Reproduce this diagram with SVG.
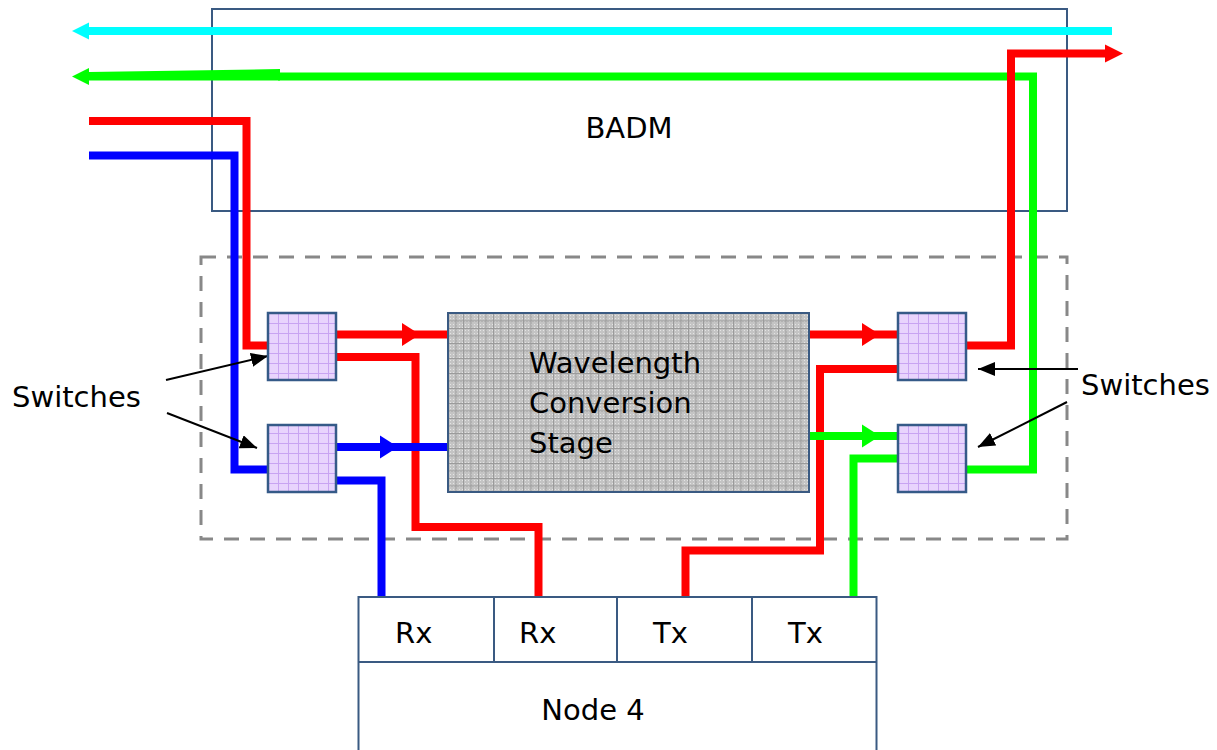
<svg xmlns="http://www.w3.org/2000/svg" width="1217" height="750" viewBox="0 0 1217 750">
<style>
.box{fill:#fff;stroke:#3a5a82;stroke-width:2}
.sw{fill:url(#swp);stroke:#355a88;stroke-width:2.5}
.t{font-family:"DejaVu Sans",Verdana,sans-serif;font-size:29px;fill:#000}
.w{fill:none;stroke-width:8;stroke-linejoin:miter}
.r{stroke:#ff0000}.b{stroke:#0000ff}.g{stroke:#00ff00}.c{stroke:#00ffff}
.ann{fill:none;stroke:#000;stroke-width:2;marker-end:url(#ah)}
</style>
<defs>
<marker id="ah" markerUnits="userSpaceOnUse" markerWidth="18" markerHeight="14" refX="17" refY="7" orient="auto">
<path d="M0,0 L17,7 L0,14 Z" fill="#000"/>
</marker>
<pattern id="swp" width="10" height="10" patternUnits="userSpaceOnUse" x="268" y="313">
<rect width="10" height="10" fill="#e8d4fd"/>
<path d="M0,0.5 H10 M0.5,0 V10" stroke="#c8a4f2" stroke-width="1"/>
</pattern>
<pattern id="dots" width="3" height="3" patternUnits="userSpaceOnUse">
<rect width="3" height="3" fill="#c4c4c4"/>
<rect width="1" height="1" fill="#e4e4e4"/>
</pattern>
<pattern id="grid" width="7.5" height="7.5" patternUnits="userSpaceOnUse" x="448" y="313">
<path d="M0,0.5 H7.5 M0.5,0 V7.5" stroke="#9a9a9a" stroke-width="1"/>
</pattern>
</defs>

<g id="badm">
<rect class="box" x="212" y="9" width="855" height="202"/>
<text class="t" x="629" y="138" text-anchor="middle">BADM</text>
</g>

<g id="switch-area">
<rect x="201" y="257" width="866" height="282" fill="none" stroke="#888" stroke-width="3" stroke-dasharray="15 11"/>
</g>

<g id="connectors">
<path class="w c" d="M1112,31 H88"/>
<polygon points="72,31 89,22.5 89,39.5" fill="#00ffff"/>
<path class="w g" d="M278,76.5 H1033 V469.5 H966"/>
<polygon points="89,72 280,69 280,80.5 89,80.5" fill="#00ff00"/>
<polygon points="72,76.5 89,68 89,85" fill="#00ff00"/>
<path class="w r" d="M966,345.5 H1011 V53.5 H1106"/>
<polygon points="1123,53.5 1105,44.5 1105,62.5" fill="#ff0000"/>
<path class="w r" d="M89,121 H246.5 V345.5 H268"/>
<path class="w b" d="M89,155.5 H234.5 V469.5 H268"/>
<path class="w r" d="M337,334.5 H448"/>
<polygon points="420,334.5 402,323 402,346" fill="#ff0000"/>
<path class="w r" d="M337,357 H415.5 V527 H538.5 V597"/>
<path class="w b" d="M337,447 H448"/>
<polygon points="398,447 380,435.5 380,458.5" fill="#0000ff"/>
<path class="w b" d="M337,480.5 H381.5 V597"/>
<path class="w r" d="M809,334.5 H898"/>
<polygon points="880,334.5 862,323 862,346" fill="#ff0000"/>
<path class="w r" d="M898,369 H820 V550.5 H685.5 V597"/>
<path class="w g" d="M809,436 H898"/>
<polygon points="880,436 862,424.5 862,447.5" fill="#00ff00"/>
<path class="w g" d="M898,458.5 H853.5 V597"/>
<path class="ann" d="M166,380 L268,356"/>
<path class="ann" d="M167,413 L257,448"/>
<path class="ann" d="M1078,369 L978,369"/>
<path class="ann" d="M1067,402 L978,447"/>
</g>

<g id="switch1"><rect class="sw" x="268" y="313" width="68" height="67"/></g>
<g id="switch2"><rect class="sw" x="268" y="425" width="68" height="67"/></g>
<g id="switch3"><rect class="sw" x="898" y="313" width="68" height="67"/></g>
<g id="switch4"><rect class="sw" x="898" y="425" width="68" height="67"/></g>

<g id="wcs">
<rect x="448" y="313" width="361" height="179" fill="url(#dots)"/>
<rect x="448" y="313" width="361" height="179" fill="url(#grid)" stroke="#3a5a82" stroke-width="2"/>
<text class="t" x="529" y="373">Wavelength</text>
<text class="t" x="529" y="413">Conversion</text>
<text class="t" x="529" y="453">Stage</text>
</g>

<g id="labels">
<text class="t" x="12" y="407">Switches</text>
<text class="t" x="1081" y="395">Switches</text>
</g>

<g id="node4">
<rect class="box" x="358.5" y="597" width="518" height="170"/>
<path d="M358.5,662 H876.5 M494,597 V662 M617,597 V662 M752,597 V662" stroke="#3a5a82" stroke-width="2" fill="none"/>
<text class="t" x="395" y="643">Rx</text>
<text class="t" x="519" y="643">Rx</text>
<text class="t" x="653" y="643">Tx</text>
<text class="t" x="788" y="643">Tx</text>
<text class="t" x="593" y="720" text-anchor="middle">Node 4</text>
</g>
</svg>
